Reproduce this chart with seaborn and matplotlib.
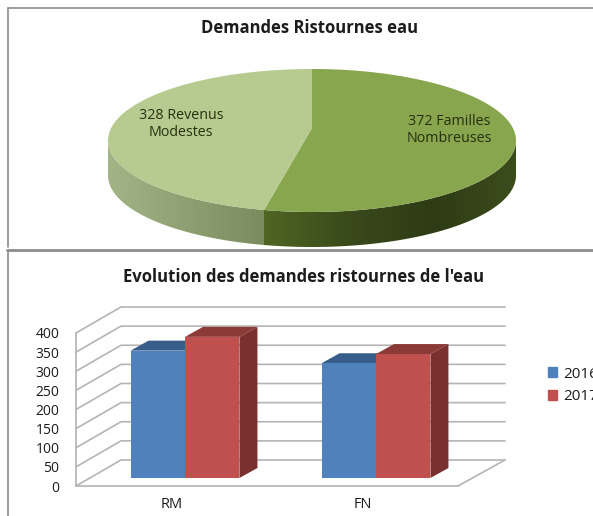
import numpy as np
import pandas as pd
import matplotlib
matplotlib.use("Agg")
import matplotlib.pyplot as plt
from matplotlib.colors import LinearSegmentedColormap
from matplotlib.lines import Line2D
from matplotlib.patches import Polygon
import seaborn as sns

W, H = 593, 516

pie_title = "Demandes Ristournes eau"
pie_values = [372, 328]
pie_labels = ["372 Familles\nNombreuses", "328 Revenus\nModestes"]

bar_title = "Evolution des demandes ristournes de l'eau"
categories = ["RM", "FN"]
years = ["2016", "2017"]
values_2016 = [333, 300]
values_2017 = [369, 324]
y_ticks = [0, 50, 100, 150, 200, 250, 300, 350, 400]

pie_colors = ["#88a64e", "#b7cb90"]
bar_colors = ["#4f81bd", "#c0504d"]
top_colors = ["#385d8a", "#8c3a38"]
side_colors = ["#2f4f75", "#7a302e"]
grid_color = "#b4b4b4"
text_color = "#1c1c1c"


def px_axes(fig, x0, y0, x1, y1, **kw):
    return fig.add_axes([x0 / W, 1 - y1 / H, (x1 - x0) / W, (y1 - y0) / H], **kw)


def side_fill(ax, t0, t1, depth, cmap):
    t = np.radians(np.linspace(t0, t1, 80))
    xs = np.cos(t)
    ys = np.sin(t)
    pts = np.r_[np.c_[xs, ys], np.c_[xs[::-1], ys[::-1] - depth]]
    clip = Polygon(pts, transform=ax.transData, fc="none", ec="none")
    ax.add_patch(clip)
    grad = np.linspace(0, 1, 256).reshape(1, -1)
    im = ax.imshow(grad, cmap=cmap, aspect="auto", zorder=1,
                   extent=[xs.min(), xs.max(), -1 - depth, 0])
    im.set_clip_path(clip)


def draw_pie(fig):
    depth = 35 / 71.5
    ax = px_axes(fig, 108, 69, 516, 247)
    ax.set_axis_off()
    # 2.3 deg: the tilted 3D view pushes the slice edge a little further round
    split = 90 - 360 * pie_values[0] / sum(pie_values) - 2.3
    vertex = (0, 12.5 / 71.5)

    left = LinearSegmentedColormap.from_list("l", ["#a3b587", "#7a8b5e"])
    right = LinearSegmentedColormap.from_list("r", ["#4f6523", "#3a4a1b", "#2e3b14", "#3c4d1c"])
    side_fill(ax, 180, split + 360, depth, left)
    side_fill(ax, split + 360, 360, depth, right)

    t1 = np.radians(np.linspace(90, split, 150))
    t2 = np.radians(np.linspace(split, -270, 150))
    for t, col in zip([t1, t2], pie_colors):
        ax.fill(np.r_[vertex[0], np.cos(t)], np.r_[vertex[1], np.sin(t)],
                color=col, lw=0, zorder=2)

    ax.set_xlim(-1, 1)
    ax.set_ylim(-1 - depth, 1)
    fig.text(310 / W, 1 - 28 / H, pie_title, ha="center", va="center",
             fontsize=12, fontweight="bold", color=text_color)
    fig.text(449 / W, 1 - 130 / H, pie_labels[0], ha="center", va="center",
             fontsize=10.3, color="#26300f", linespacing=1.1)
    fig.text(181 / W, 1 - 124 / H, pie_labels[1], ha="center", va="center",
             fontsize=10.3, color="#26300f", linespacing=1.1)


def draw_bars(fig):
    # front plane: ticks and walls
    ax = px_axes(fig, 76, 333, 458, 486)
    sns.despine(ax=ax)
    ax.set_xlim(-0.5, 1.5)
    ax.set_ylim(0, 400)
    ax.patch.set_alpha(0)
    ax.set_yticks(y_ticks)
    ax.set_xticks([-0.5, 0.5, 1.5])
    ax.set_xticklabels([])
    ax.set_xticks([0, 1], minor=True)
    ax.set_xticklabels(categories, minor=True)
    ax.tick_params(axis="x", which="minor", length=0, pad=8, labelsize=10.5, labelcolor=text_color)
    ax.tick_params(axis="x", which="major", length=3, width=1, color=grid_color)
    ax.tick_params(axis="y", length=3, width=1, color=grid_color, pad=9,
                   labelsize=10, labelcolor=text_color)
    for s in ["left", "bottom"]:
        ax.spines[s].set_color(grid_color)
        ax.spines[s].set_linewidth(1.2)

    dx = 45 / 191
    dy = 26 / 0.3825
    right = (505 - 76) / 191 - 0.5
    for v in y_ticks:
        ax.plot([-0.5, -0.5 + dx, right], [v, v + dy, v + dy], color=grid_color,
                lw=1.2, clip_on=False, zorder=1)
    ax.plot([1.5, right], [0, dy], color=grid_color, lw=1.2, clip_on=False, zorder=1)

    # bars sit on a plane a bit behind the axis
    bx = px_axes(fig, 89.5, 325, 471.5, 478)
    df = pd.DataFrame({
        "cat": categories * 2,
        "year": [years[0]] * 2 + [years[1]] * 2,
        "value": values_2016 + values_2017,
    })
    sns.barplot(data=df, x="cat", y="value", hue="year", palette=bar_colors, ax=bx,
                width=0.57, gap=0, saturation=1, dodge=True, zorder=3, legend=False,
                linewidth=0, edgecolor="none")
    bx.set_xlim(-0.5, 1.5)
    bx.set_ylim(0, 400)
    bx.set_axis_off()

    sx = 18 / 191
    sy = 10 / 0.3825
    for i, container in enumerate(bx.containers):
        for p in container:
            x0, x1, h = p.get_x(), p.get_x() + p.get_width(), p.get_height()
            bx.fill([x0, x1, x1 + sx, x0 + sx], [h, h, h + sy, h + sy],
                    color=top_colors[i], lw=0, zorder=2, clip_on=False)
            bx.fill([x1, x1 + sx, x1 + sx, x1], [0, sy, h + sy, h],
                    color=side_colors[i], lw=0, zorder=2, clip_on=False)

    handles = [Polygon([[0, 0]], color=c, label=y) for c, y in zip(bar_colors, years)]
    fig.legend(handles=handles, loc="center left", bbox_to_anchor=(548 / W, 1 - 385.5 / H),
               frameon=False, fontsize=11, handlelength=0.6, handleheight=0.6,
               handletextpad=0.4, labelspacing=0.5, labelcolor=text_color,
               borderaxespad=0, borderpad=0)
    fig.text(304 / W, 1 - 277 / H, bar_title, ha="center", va="center",
             fontsize=12, fontweight="bold", color=text_color)


sns.set_theme(style="white")
plt.rcParams["font.family"] = ["Open Sans", "DejaVu Sans"]

fig = plt.figure(figsize=(W / 100, H / 100), dpi=100, facecolor="white")
frame = [([8, 8], [8, 247], 1.2), ([8, W], [8, 8], 1.2), ([7, W], [250, 250], 2), ([8, 8], [251, 516], 1.2)]
for xs, ys, lw in frame:
    fig.add_artist(Line2D(np.array(xs) / W, 1 - np.array(ys) / H, color="#8c8c8c", lw=lw))

draw_pie(fig)
draw_bars(fig)
fig.savefig("out.png", dpi=100)
